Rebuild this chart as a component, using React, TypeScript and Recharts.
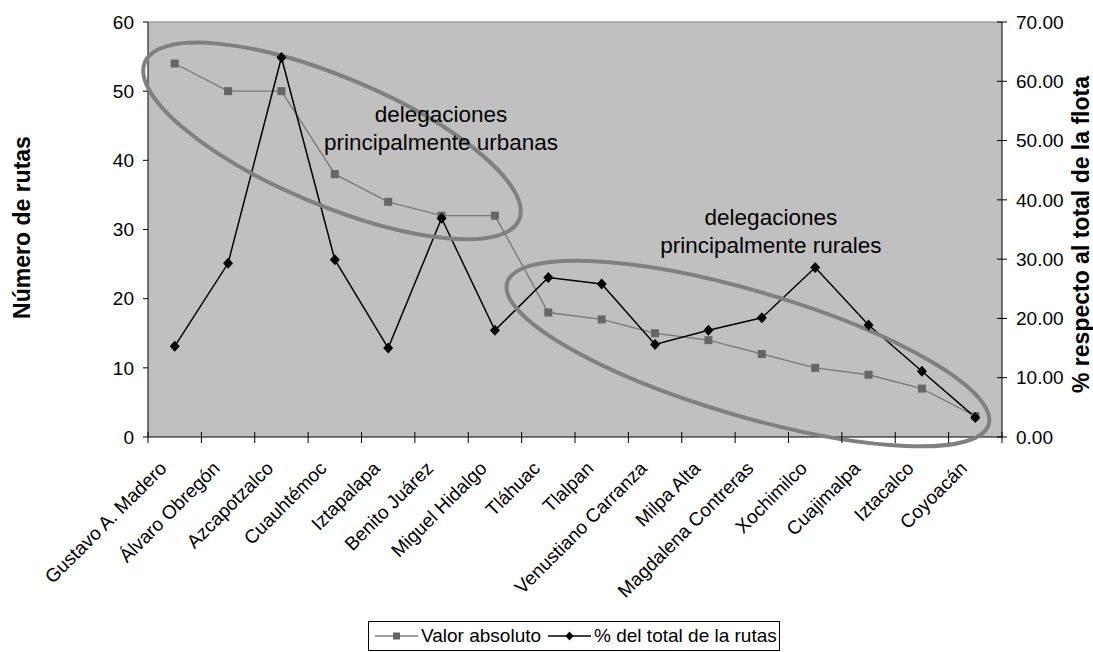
import React from "react";
import {
  LineChart,
  Line,
  XAxis,
  YAxis,
  CartesianGrid,
  ReferenceDot,
  ReferenceLine,
  Legend,
  Label,
} from "recharts";

const FONT = "Arial, 'Liberation Sans', Helvetica, sans-serif";

// Delegaciones (category axis)
const categories = [
  "Gustavo A. Madero",
  "Álvaro Obregón",
  "Azcapotzalco",
  "Cuauhtémoc",
  "Iztapalapa",
  "Benito Juárez",
  "Miguel Hidalgo",
  "Tláhuac",
  "Tlalpan",
  "Venustiano Carranza",
  "Milpa Alta",
  "Magdalena Contreras",
  "Xochimilco",
  "Cuajimalpa",
  "Iztacalco",
  "Coyoacán",
];

// Número de rutas por delegación
const valorAbsoluto = [54, 50, 50, 38, 34, 32, 32, 18, 17, 15, 14, 12, 10, 9, 7, 3];

// % respecto al total de la flota
const porcentajeRutas = [
  15.3, 29.3, 64.0, 29.9, 15.0, 36.9, 18.0, 26.9, 25.8, 15.6, 18.0, 20.1, 28.6, 18.9, 11.1, 3.3,
];

const leftTicks = [0, 10, 20, 30, 40, 50, 60];
const rightTicks = [0, 10, 20, 30, 40, 50, 60, 70];

// Tick marks sit on category boundaries (integers), labels on centres (halves)
const xTicks: number[] = [];
for (let i = 0; i <= categories.length; i++) {
  xTicks.push(i);
  if (i < categories.length) xTicks.push(i + 0.5);
}

const data = categories.map((name, i) => ({
  name,
  pos: i + 0.5,
  valor: valorAbsoluto[i],
  pct: porcentajeRutas[i],
}));

// Grouping annotations (positions in axis units: x = category position, y = Número de rutas)
const groupLabels = [
  { lines: ["delegaciones", "principalmente urbanas"], x: 5.49, y: 45.5 },
  { lines: ["delegaciones", "principalmente rurales"], x: 11.67, y: 30.65 },
];
const groupEllipses = [
  { x: 3.447, y: 42.8, rx: 203, ry: 64, angle: 22.8 },
  { x: 11.24, y: 12.07, rx: 251, ry: 62.5, angle: 16.4 },
];

const legendOrder = ["valor", "pct"];

const SERIES_GRAY = "#7a7a7a";
const MARKER_GRAY = "#666666";

const SquareDot = (props: any) => {
  const { cx, cy, index } = props;
  if (cx == null || cy == null) return <g key={`s-${index}`} />;
  return <rect key={`s-${index}`} x={cx - 4} y={cy - 4} width={8} height={8} fill={MARKER_GRAY} />;
};

const DiamondDot = (props: any) => {
  const { cx, cy, index } = props;
  if (cx == null || cy == null) return <g key={`d-${index}`} />;
  return (
    <path
      key={`d-${index}`}
      d={`M${cx},${cy - 5.5} L${cx + 5},${cy} L${cx},${cy + 5.5} L${cx - 5},${cy} Z`}
      fill="#000"
    />
  );
};

const XTick = (props: any) => {
  const { x, y, payload } = props;
  const v = payload.value as number;
  if (Number.isInteger(v)) {
    return <line x1={x} x2={x} y1={y - 5} y2={y + 6} stroke="#000" strokeWidth={1} />;
  }
  const label = categories[Math.floor(v)];
  const ax = x - 7;
  const ay = y + 32.5;
  return (
    <text
      x={ax}
      y={ay}
      transform={`rotate(-45 ${ax} ${ay})`}
      textAnchor="end"
      fontSize={19}
      fontFamily={FONT}
      fill="#000"
    >
      {label}
    </text>
  );
};

const RightTick = (props: any) => {
  const { x, y, payload } = props;
  const axisX = x - 14;
  return (
    <g>
      <line x1={axisX - 5} x2={axisX + 5} y1={y} y2={y} stroke="#000" strokeWidth={1} />
      <text x={x} y={y} dy="0.355em" textAnchor="start" fontSize={19} fontFamily={FONT} fill="#000">
        {Number(payload.value).toFixed(2)}
      </text>
    </g>
  );
};

const LegendIcon = ({ kind }: { kind: string }) => (
  <svg width={43} height={12} style={{ display: "block", flex: "none" }}>
    <line x1={0} x2={43} y1={6} y2={6} stroke={kind === "valor" ? SERIES_GRAY : "#000"} strokeWidth={1.5} />
    {kind === "valor" ? (
      <rect x={18} y={2.5} width={7} height={7} fill={MARKER_GRAY} />
    ) : (
      <path d="M21.5,1.5 L25.5,6 L21.5,10.5 L17.5,6 Z" fill="#000" />
    )}
  </svg>
);

const renderLegend = (props: any) => {
  const items = [...((props.payload || []) as any[])].sort(
    (a, b) => legendOrder.indexOf(a.dataKey) - legendOrder.indexOf(b.dataKey)
  );
  return (
    <div
      style={{
        boxSizing: "border-box",
        width: 412,
        height: 30,
        border: "1px solid #000",
        background: "#fff",
        display: "flex",
        alignItems: "center",
        paddingLeft: 6,
        fontFamily: FONT,
        fontSize: 19,
        color: "#000",
        whiteSpace: "nowrap",
      }}
    >
      {items.map((it, i) => (
        <div key={i} style={{ display: "flex", alignItems: "center", marginLeft: i === 0 ? 0 : 7 }}>
          <LegendIcon kind={it.dataKey} />
          <span style={{ marginLeft: 3 }}>{it.value}</span>
        </div>
      ))}
    </div>
  );
};

const AxisTitle = (props: any) => {
  const { viewBox, value, offsetX, shiftY } = props;
  const cx = viewBox.x + offsetX;
  const cy = viewBox.y + viewBox.height / 2 + shiftY;
  return (
    <text
      x={cx}
      y={cy}
      transform={`rotate(-90 ${cx} ${cy})`}
      textAnchor="middle"
      dominantBaseline="central"
      fontSize={23}
      fontWeight="bold"
      fontFamily={FONT}
      fill="#000"
    >
      {value}
    </text>
  );
};

export default function App() {
  return (
    <div style={{ position: "absolute", left: 0, top: 0, width: 1093, height: 652, background: "#fff" }}>
      <LineChart
        width={1093}
        height={652}
        data={data}
        margin={{ top: 22, right: 0, bottom: 0, left: 0 }}
      >
        <CartesianGrid
          yAxisId="left"
          horizontal={false}
          vertical={false}
          fill="#c0c0c0"
          fillOpacity={1}
          stroke="none"
        />
        <XAxis
          dataKey="pos"
          type="number"
          domain={[0, categories.length]}
          ticks={xTicks}
          interval={0}
          tickLine={false}
          tickSize={0}
          tickMargin={0}
          height={215}
          axisLine={{ stroke: "#000", strokeWidth: 1 }}
          tick={<XTick />}
        />
        <YAxis
          yAxisId="left"
          width={148}
          domain={[0, 60]}
          ticks={leftTicks}
          interval={0}
          tickSize={5}
          tickMargin={9}
          tickLine={{ stroke: "#000" }}
          axisLine={{ stroke: "#000", strokeWidth: 1 }}
          tick={{ fill: "#000", fontSize: 19, fontFamily: FONT }}
        >
          <Label
            value="Número de rutas"
            content={(p: any) => <AxisTitle {...p} value="Número de rutas" offsetX={22} shiftY={-2} />}
          />
        </YAxis>
        <YAxis
          yAxisId="right"
          orientation="right"
          width={91}
          domain={[0, 70]}
          ticks={rightTicks}
          interval={0}
          tickSize={0}
          tickMargin={14}
          tickLine={false}
          axisLine={{ stroke: "#000", strokeWidth: 1 }}
          tick={<RightTick />}
        >
          <Label
            value="% respecto al total de la flota"
            content={(p: any) => (
              <AxisTitle {...p} value="% respecto al total de la flota" offsetX={79} shiftY={5} />
            )}
          />
        </YAxis>
        <ReferenceLine yAxisId="left" y={60} stroke="#808080" strokeWidth={1} ifOverflow="visible" />
        <Line
          yAxisId="left"
          dataKey="valor"
          name="Valor absoluto"
          stroke={SERIES_GRAY}
          strokeWidth={1.4}
          dot={SquareDot}
          activeDot={false}
          isAnimationActive={false}
        />
        <Line
          yAxisId="right"
          dataKey="pct"
          name="% del total de la rutas"
          stroke="#000"
          strokeWidth={1.5}
          dot={DiamondDot}
          activeDot={false}
          isAnimationActive={false}
        />
        {groupEllipses.map((g, i) => (
          <ReferenceDot
            key={`e-${i}`}
            yAxisId="left"
            x={g.x}
            y={g.y}
            r={1}
            ifOverflow="visible"
            shape={(p: any) => (
              <ellipse
                cx={p.cx}
                cy={p.cy}
                rx={g.rx}
                ry={g.ry}
                transform={`rotate(${g.angle} ${p.cx} ${p.cy})`}
                fill="none"
                stroke="#808080"
                strokeWidth={4}
              />
            )}
          />
        ))}
        {groupLabels.map((g, i) => (
          <ReferenceDot
            key={`t-${i}`}
            yAxisId="left"
            x={g.x}
            y={g.y}
            r={1}
            ifOverflow="visible"
            shape={(p: any) => (
              <text
                x={p.cx}
                y={p.cy}
                textAnchor="middle"
                fontSize={22.5}
                fontFamily={FONT}
                fill="#000"
              >
                {g.lines.map((ln, k) => (
                  <tspan key={k} x={p.cx} dy={k === 0 ? 0 : 28}>
                    {ln}
                  </tspan>
                ))}
              </text>
            )}
          />
        ))}
        <Legend
          layout="horizontal"
          verticalAlign="middle"
          align="center"
          wrapperStyle={{ left: 368, top: 621, width: 412, height: 30 }}
          content={renderLegend}
        />
      </LineChart>
    </div>
  );
}
